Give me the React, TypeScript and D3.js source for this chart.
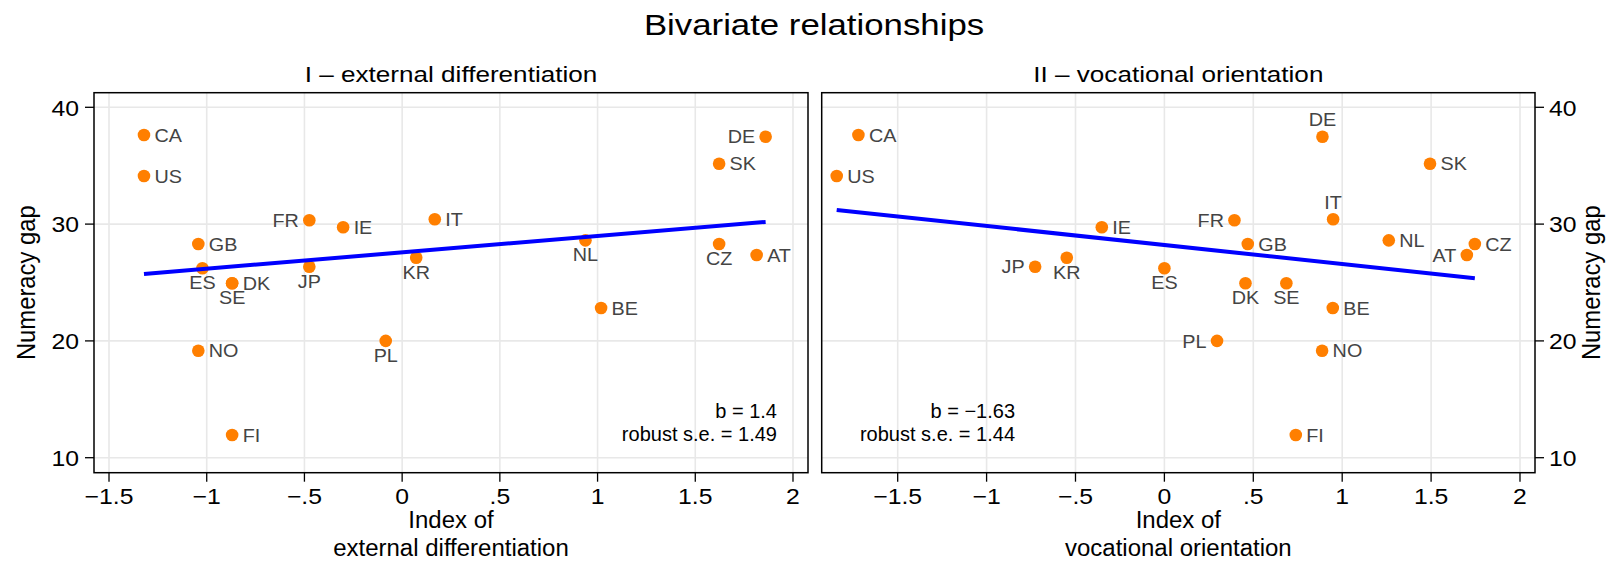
import React from "react";
import * as d3 from "d3";

// ---------- data ----------
const countries = ["CA","US","FR","IE","GB","ES","DK","SE","JP","PL","NO","FI","KR","IT","NL","BE","DE","SK","CZ","AT"];
const numeracyGap = [37.63,34.12,30.33,29.73,28.3,26.22,24.93,24.93,26.35,20.0,19.16,11.94,27.12,30.41,28.61,22.82,37.48,35.17,28.3,27.36];
const externalDiff = [-1.321,-1.321,-0.475,-0.302,-1.043,-1.022,-0.87,-0.87,-0.475,-0.084,-1.043,-0.87,0.072,0.167,0.938,1.018,1.86,1.622,1.622,1.814];
const vocationalOrient = [-1.721,-1.843,0.394,-0.352,0.469,0.0,0.456,0.686,-0.727,0.296,0.887,0.739,-0.549,0.949,1.262,0.947,0.889,1.494,1.746,1.701];
// label clock positions (3 = right, 9 = left, 6 = below, 12 = above)
const labelPosExternal = [3,3,9,3,3,6,3,6,6,6,3,3,6,3,6,3,9,3,6,3];
const labelPosVocational = [3,3,9,3,3,6,6,6,9,9,3,3,6,12,3,3,12,3,3,9];
const xTicks = [-1.5,-1,-0.5,0,0.5,1,1.5,2];
const yTicks = [10,20,30,40];
const fitExternal = { slope: 1.4, intercept: 27.58 };
const fitVocational = { slope: -1.63, intercept: 28.21 };
const noteExternal = ["b = 1.4", "robust s.e. = 1.49"];
const noteVocational = ["b = \u22121.63", "robust s.e. = 1.44"];

const W = 1615, H = 563;
const FONT = "'Liberation Sans', Arial, Helvetica, sans-serif";
const ORANGE = "#ff7f00";
const LABEL = "#444444";
const GRID = "#e8e8e8";

const fmt = (d: number) => {
  if (d === 0) return "0";
  const s = String(Math.abs(d)).replace(/^0\./, ".");
  return (d < 0 ? "\u2212" : "") + s;
};

type TP = { x: number; y: number; sx?: number; size: number; anchor?: string; fill?: string; rot?: number; children: any };
const T = ({ x, y, sx = 1, size, anchor = "start", fill = "#000", rot, children }: TP) => (
  <text
    transform={`translate(${x},${y}) scale(${sx},1)${rot ? ` rotate(${rot})` : ""}`}
    fontSize={size}
    fontFamily={FONT}
    textAnchor={anchor}
    fill={fill}
  >
    {children}
  </text>
);

const TOP = 92.7, BOTTOM = 472.7;
const yScale = d3.scaleLinear().domain([8.716, 41.25]).range([BOTTOM, TOP]);

const panels = [
  {
    title: "I \u2013 external differentiation",
    xTitle: ["Index of", "external differentiation"],
    xs: externalDiff,
    pos: labelPosExternal,
    left: 94, right: 808,
    domain: [-1.5768, 2.0768],
    fit: fitExternal,
    note: noteExternal,
    noteX: 1.918,
    side: "left",
  },
  {
    title: "II \u2013 vocational orientation",
    xTitle: ["Index of", "vocational orientation"],
    xs: vocationalOrient,
    pos: labelPosVocational,
    left: 821.7, right: 1535,
    domain: [-1.9274, 2.0844],
    fit: fitVocational,
    note: noteVocational,
    noteX: -0.84,
    side: "right",
  },
];

const LBL = 18.5, LSX = 1.07;

function Panel({ p }: { p: any }) {
  const x = d3.scaleLinear().domain(p.domain).range([p.left, p.right]);
  const cx = (p.left + p.right) / 2;
  const [x0, x1] = d3.extent(p.xs as number[]) as [number, number];
  const line = d3.line<number>().x((d) => x(d)).y((d) => yScale(p.fit.intercept + p.fit.slope * d));
  return (
    <g>
      {/* gridlines */}
      {xTicks.map((t) => (
        <line key={"gx" + t} x1={x(t)} x2={x(t)} y1={TOP} y2={BOTTOM} stroke={GRID} strokeWidth={1.6} />
      ))}
      {yTicks.map((t) => (
        <line key={"gy" + t} x1={p.left} x2={p.right} y1={yScale(t)} y2={yScale(t)} stroke={GRID} strokeWidth={1.6} />
      ))}
      {/* frame */}
      <rect x={p.left} y={TOP} width={p.right - p.left} height={BOTTOM - TOP} fill="none" stroke="#000" strokeWidth={1.5} />
      {/* x ticks */}
      {xTicks.map((t) => (
        <g key={"xt" + t}>
          <line x1={x(t)} x2={x(t)} y1={BOTTOM} y2={BOTTOM + 9} stroke="#000" strokeWidth={1.3} />
          <T x={x(t)} y={504} size={22.5} sx={1.1} anchor="middle">{fmt(t)}</T>
        </g>
      ))}
      {/* y ticks */}
      {yTicks.map((t) =>
        p.side === "left" ? (
          <g key={"yt" + t}>
            <line x1={p.left - 9} x2={p.left} y1={yScale(t)} y2={yScale(t)} stroke="#000" strokeWidth={1.3} />
            <T x={79} y={yScale(t) + 8.3} size={22.5} sx={1.1} anchor="end">{String(t)}</T>
          </g>
        ) : (
          <g key={"yt" + t}>
            <line x1={p.right} x2={p.right + 9} y1={yScale(t)} y2={yScale(t)} stroke="#000" strokeWidth={1.3} />
            <T x={1549} y={yScale(t) + 8.3} size={22.5} sx={1.1} anchor="start">{String(t)}</T>
          </g>
        )
      )}
      {/* y title */}
      <T x={p.side === "left" ? 34.5 : 1600} y={(TOP + BOTTOM) / 2} size={23.8} sx={1.08} anchor="middle" rot={-90}>
        Numeracy gap
      </T>
      {/* x title */}
      <T x={cx} y={528} size={23.3} sx={1.03} anchor="middle">{p.xTitle[0]}</T>
      <T x={cx} y={556} size={23.3} sx={1.03} anchor="middle">{p.xTitle[1]}</T>
      {/* panel title */}
      <T x={cx} y={81.5} size={22.5} sx={1.16} anchor="middle">{p.title}</T>
      {/* points */}
      {countries.map((c, i) => (
        <circle key={"pt" + c} cx={x(p.xs[i])} cy={yScale(numeracyGap[i])} r={6.3} fill={ORANGE} />
      ))}
      {/* labels */}
      {countries.map((c, i) => {
        const px = x(p.xs[i]);
        const py = yScale(numeracyGap[i]);
        const pos = p.pos[i];
        if (pos === 3) return <T key={"lb" + c} x={px + 10.5} y={py + 6.6} size={LBL} sx={LSX} fill={LABEL}>{c}</T>;
        if (pos === 9) return <T key={"lb" + c} x={px - 10.5} y={py + 6.6} size={LBL} sx={LSX} fill={LABEL} anchor="end">{c}</T>;
        if (pos === 6) return <T key={"lb" + c} x={px} y={py + 21} size={LBL} sx={LSX} fill={LABEL} anchor="middle">{c}</T>;
        return <T key={"lb" + c} x={px} y={py - 10.7} size={LBL} sx={LSX} fill={LABEL} anchor="middle">{c}</T>;
      })}
      {/* fit line */}
      <path d={line([x0, x1]) || ""} fill="none" stroke="#0000ff" strokeWidth={4} />
      {/* note */}
      <T x={x(p.noteX)} y={418} size={20} sx={1.0} anchor="end">{p.note[0]}</T>
      <T x={x(p.noteX)} y={440.5} size={20} sx={1.0} anchor="end">{p.note[1]}</T>
    </g>
  );
}

export default function App() {
  return (
    <svg
      width={W}
      height={H}
      viewBox={`0 0 ${W} ${H}`}
      style={{ position: "absolute", left: 0, top: 0, display: "block", background: "#fff" }}
    >
      <rect x={0} y={0} width={W} height={H} fill="#fff" />
      <T x={814} y={34.5} size={30} sx={1.16} anchor="middle">Bivariate relationships</T>
      {panels.map((p, i) => (
        <Panel key={i} p={p} />
      ))}
    </svg>
  );
}
